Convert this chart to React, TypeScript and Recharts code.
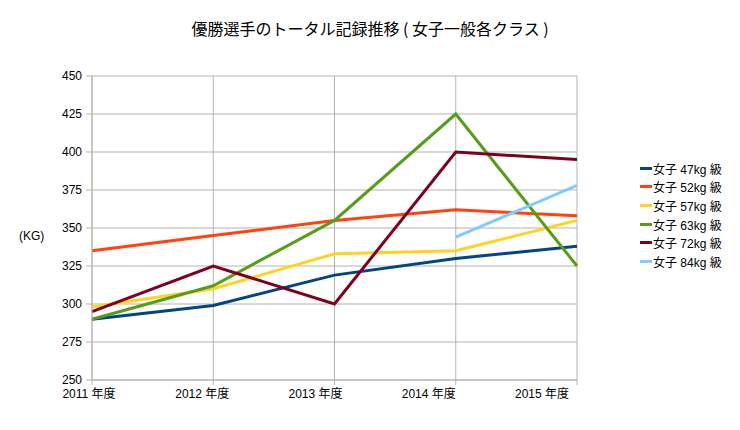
import React from 'react';
import { LineChart, Line, XAxis, YAxis, CartesianGrid, Legend } from 'recharts';

const years = ['2011 年度', '2012 年度', '2013 年度', '2014 年度', '2015 年度'];
const w47 = [290, 299, 319, 330, 338];
const w52 = [335, 345, 355, 362, 358];
const w57 = [298, 310, 333, 335, 355];
const w63 = [290, 312, 355, 425, 325];
const w72 = [295, 325, 300, 400, 395];
const w84: (number | null)[] = [null, null, null, 344, 378];
const yTicks = [250, 275, 300, 325, 350, 375, 400, 425, 450];

const seriesNames = ['女子 47kg 級', '女子 52kg 級', '女子 57kg 級', '女子 63kg 級', '女子 72kg 級', '女子 84kg 級'];
const seriesColors = ['#004586', '#ff420e', '#ffd320', '#579d1c', '#7e0021', '#83caff'];
const seriesValues = [w47, w52, w57, w63, w72, w84];

const data = years.map((y, i) => {
  const row: Record<string, any> = { year: y };
  seriesNames.forEach((n, s) => {
    row['s' + s] = seriesValues[s][i];
  });
  return row;
});

const FONT = '"Liberation Sans", Arial, "Noto Sans CJK JP", sans-serif';

const LegendContent = () => (
  <div style={{ fontFamily: FONT, fontSize: 12, color: '#000' }}>
    {seriesNames.map((n, i) => (
      <div key={n} style={{ display: 'flex', alignItems: 'center', height: 18.6, whiteSpace: 'nowrap' }}>
        <span style={{ display: 'inline-block', width: 12, height: 3, background: seriesColors[i], marginRight: 1 }} />
        <span>{n}</span>
      </div>
    ))}
  </div>
);

const KgLabel = (props: any) => {
  const vb = props.viewBox || {};
  return (
    <text x={19} y={vb.y + vb.height / 2 + 9} fontSize={12} fontFamily={FONT} fill="#000" dominantBaseline="middle">
      (KG)
    </text>
  );
};

const XTick = (props: any) => {
  const { x, y, payload, index } = props;
  return (
    <text x={x - 3 - 8 * index} y={y + 4} dy="0.71em" textAnchor="middle" fontSize={12} fontFamily={FONT} fill="#000">
      {payload.value}
    </text>
  );
};

export default function App() {
  return (
    <div style={{ position: 'absolute', left: 0, top: 0, width: 740, height: 430, background: '#fff' }}>
      <div
        style={{
          position: 'absolute',
          left: 0,
          top: 17,
          width: 740,
          textAlign: 'center',
          fontFamily: '"Noto Sans CJK JP", sans-serif',
          fontSize: 16,
          color: '#000',
          lineHeight: '22px',
        }}
      >
        優勝選手のトータル記録推移 ( 女子一般各クラス )
      </div>
      <LineChart width={740} height={430} data={data} margin={{ top: 76, right: 163, bottom: 0, left: 0 }}>
        <CartesianGrid stroke="#b3b3b3" strokeWidth={1} />
        <XAxis
          dataKey="year"
          height={50}
          tickSize={5}
          tickMargin={0}
          stroke="#b3b3b3"
          tick={<XTick />}
          interval={0}
        />
        <YAxis
          domain={[250, 450]}
          ticks={yTicks}
          width={92}
          tickSize={6}
          tickMargin={4}
          stroke="#b3b3b3"
          tick={{ fill: '#000', fontSize: 12, fontFamily: FONT }}
          label={<KgLabel />}
        />
        <Legend
          layout="vertical"
          align="center"
          verticalAlign="middle"
          content={<LegendContent />}
          wrapperStyle={{ left: 640, top: 159, width: 100 }}
        />
        {seriesNames.map((n, i) => (
          <Line
            key={n}
            type="linear"
            dataKey={'s' + i}
            name={n}
            stroke={seriesColors[i]}
            strokeWidth={3}
            dot={false}
            activeDot={false}
            isAnimationActive={false}
          />
        ))}
      </LineChart>
    </div>
  );
}
